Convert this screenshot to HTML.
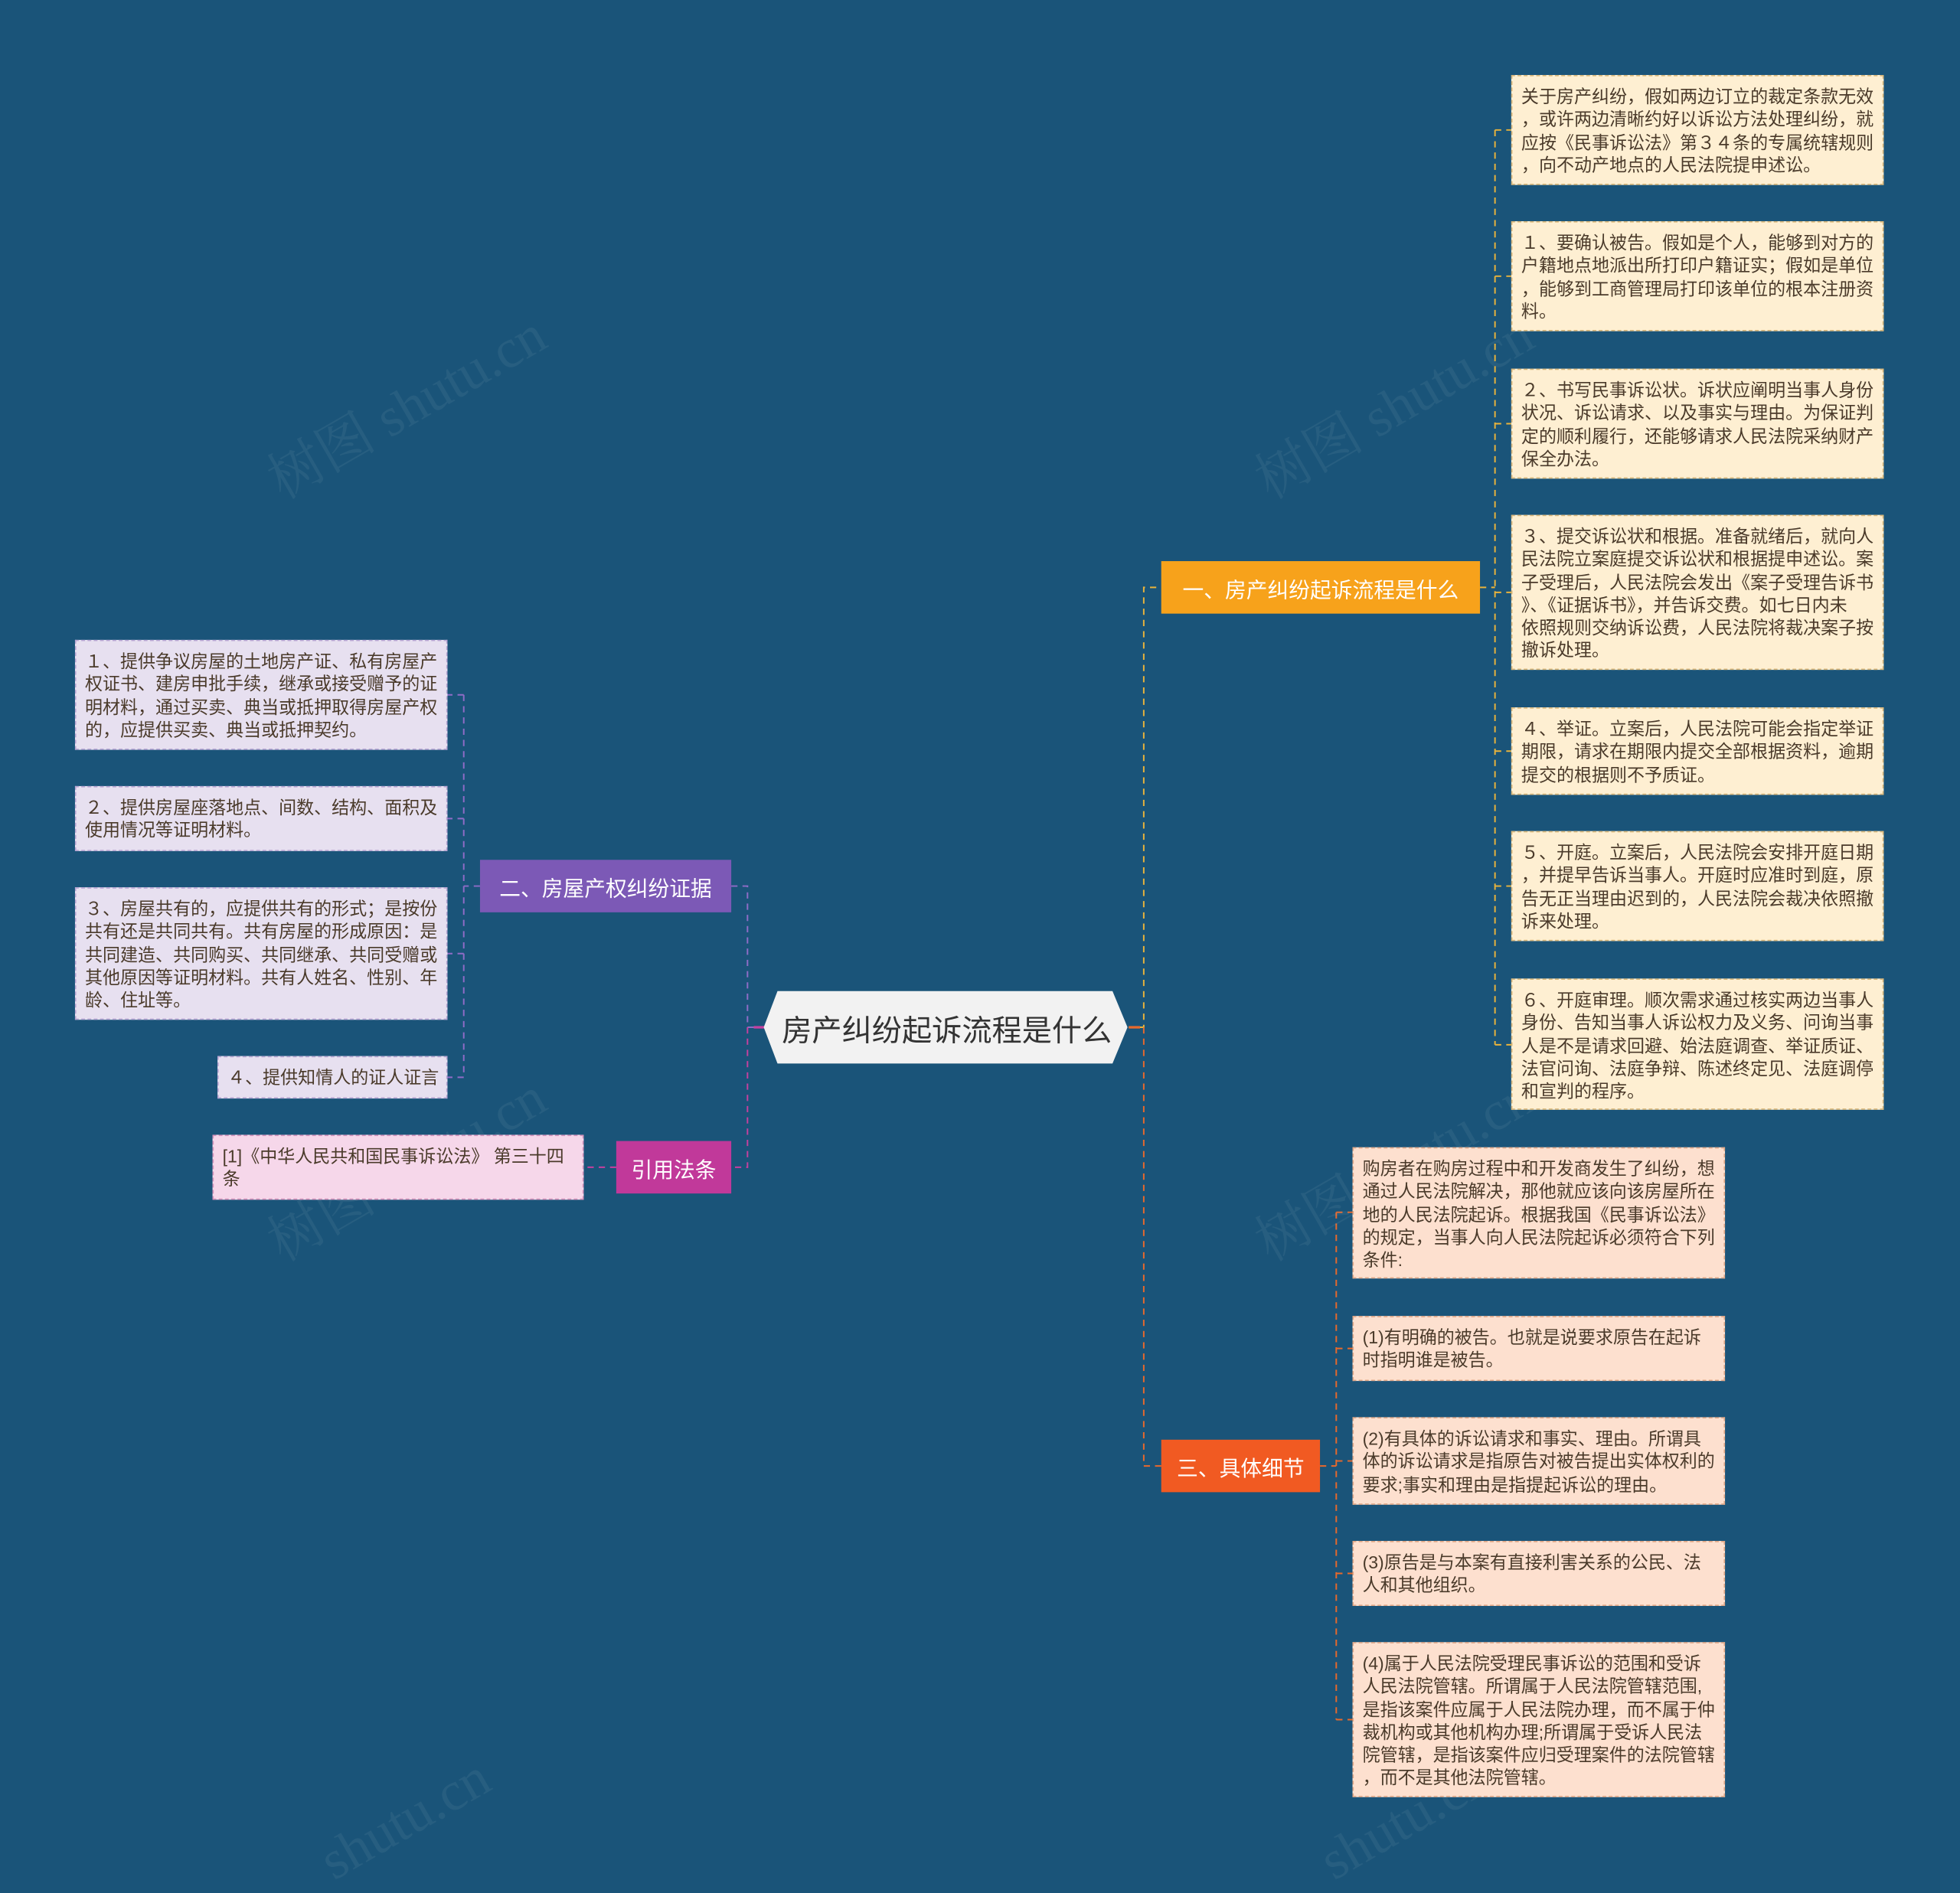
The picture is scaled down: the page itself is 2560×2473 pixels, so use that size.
<!DOCTYPE html>
<html><head><meta charset="utf-8"><style>
html,body{margin:0;padding:0;background:#1a5479;}
body{width:2560px;height:2448px;overflow:hidden;position:relative;}
#c{position:absolute;left:0;top:0;width:1568px;height:1499px;transform:scale(1.63265);transform-origin:0 0;font-family:"Liberation Sans","Noto Sans CJK SC",sans-serif;}
.b{position:absolute;box-sizing:border-box;padding:7px 6px 0 7px;font-size:14.1px;line-height:18.3px;color:#4a3a2a;white-space:nowrap;overflow:hidden;}
.y{background:#feefd2;border:1px dashed #d9b77a;}
.p{background:#fde0cf;border:1px dashed #e0a787;}
.l{background:#e7e0f0;border:1px dashed #b8a6d3;}
.k{background:#f6d7ea;border:1px dashed #d493bb;}
.m{position:absolute;box-sizing:border-box;color:#fff;font-size:17px;display:flex;align-items:center;justify-content:center;white-space:nowrap;}
.w{position:absolute;font-size:44px;color:rgba(255,255,255,0.06);transform:rotate(-30deg);white-space:nowrap;font-family:"Liberation Serif","Noto Serif CJK SC",serif;}
</style></head><body><div id="c">
<svg width="1568" height="1499" style="position:absolute;left:0;top:0" fill="none" stroke-width="1.2" stroke-dasharray="5,4">
<g stroke="#e9b33c">
<path d="M903 822 H915 V470 H929"/>
<path d="M1184 470 H1196 M1196 104 V836 M1196 104 H1209 M1196 221 H1209 M1196 339 H1209 M1196 474 H1209 M1196 601 H1209 M1196 709 H1209 M1196 836 H1209"/>
</g>
<g stroke="#e8692c">
<path d="M915 822 V1173 H929"/>
<path d="M1056 1173 H1069 M1069 970 V1376 M1069 970 H1082 M1069 1079 H1082 M1069 1169 H1082 M1069 1259 H1082 M1069 1376 H1082"/>
</g>
<g stroke="#8f6cc7">
<path d="M612 822 H598 V709 H585"/>
<path d="M384 709 H371 M371 556 V862 M371 556 H358 M371 655 H358 M371 763 H358 M371 862 H358"/>
</g>
<g stroke="#c6409f">
<path d="M598 822 V934 H585"/>
<path d="M493 934 H467"/>
</g>
<path d="M903 822 H912" stroke="#e8692c" stroke-dasharray="none" stroke-width="2"/>
<path d="M603 822 H612" stroke="#c6409f" stroke-dasharray="none" stroke-width="2"/>
</svg>
<div class="w" style="left:200px;top:290px">树图 shutu.cn</div>
<div class="w" style="left:990px;top:290px">树图 shutu.cn</div>
<div class="w" style="left:200px;top:900px">树图 shutu.cn</div>
<div class="w" style="left:990px;top:900px">树图 shutu.cn</div>
<div class="w" style="left:250px;top:1430px">shutu.cn</div>
<div class="w" style="left:1050px;top:1430px">shutu.cn</div>

<svg width="300" height="60" style="position:absolute;left:610px;top:792px"><polygon points="12,1 280,1 292,30 280,59 12,59 1,30" fill="#f2f2f2"/></svg>
<div class="m" style="left:612px;top:793px;width:291px;height:58px;color:#333;font-size:24px">房产纠纷起诉流程是什么</div>

<div class="m" style="left:929px;top:449px;width:255px;height:42px;background:#f7a21b">一、房产纠纷起诉流程是什么</div>
<div class="m" style="left:929px;top:1152px;width:127px;height:42px;background:#f15a22">三、具体细节</div>
<div class="m" style="left:384px;top:688px;width:201px;height:42px;background:#7c59b6">二、房屋产权纠纷证据</div>
<div class="m" style="left:493px;top:913px;width:92px;height:42px;background:#c1399a">引用法条</div>

<div class="b y" style="left:1209px;top:60px;width:298px;height:88px">关于房产纠纷，假如两边订立的裁定条款无效<br>，或许两边清晰约好以诉讼方法处理纠纷，就<br>应按《民事诉讼法》第３４条的专属统辖规则<br>，向不动产地点的人民法院提申述讼。</div>
<div class="b y" style="left:1209px;top:177px;width:298px;height:88px">１、要确认被告。假如是个人，能够到对方的<br>户籍地点地派出所打印户籍证实；假如是单位<br>，能够到工商管理局打印该单位的根本注册资<br>料。</div>
<div class="b y" style="left:1209px;top:295px;width:298px;height:88px">２、书写民事诉讼状。诉状应阐明当事人身份<br>状况、诉讼请求、以及事实与理由。为保证判<br>定的顺利履行，还能够请求人民法院采纳财产<br>保全办法。</div>
<div class="b y" style="left:1209px;top:412px;width:298px;height:124px">３、提交诉讼状和根据。准备就绪后，就向人<br>民法院立案庭提交诉讼状和根据提申述讼。案<br>子受理后，人民法院会发出《案子受理告诉书<br>》、《证据诉书》，并告诉交费。如七日内未<br>依照规则交纳诉讼费，人民法院将裁决案子按<br>撤诉处理。</div>
<div class="b y" style="left:1209px;top:566px;width:298px;height:70px">４、举证。立案后，人民法院可能会指定举证<br>期限，请求在期限内提交全部根据资料，逾期<br>提交的根据则不予质证。</div>
<div class="b y" style="left:1209px;top:665px;width:298px;height:88px">５、开庭。立案后，人民法院会安排开庭日期<br>，并提早告诉当事人。开庭时应准时到庭，原<br>告无正当理由迟到的，人民法院会裁决依照撤<br>诉来处理。</div>
<div class="b y" style="left:1209px;top:783px;width:298px;height:105px">６、开庭审理。顺次需求通过核实两边当事人<br>身份、告知当事人诉讼权力及义务、问询当事<br>人是不是请求回避、始法庭调查、举证质证、<br>法官问询、法庭争辩、陈述终定见、法庭调停<br>和宣判的程序。</div>

<div class="b p" style="left:1082px;top:918px;width:298px;height:105px">购房者在购房过程中和开发商发生了纠纷，想<br>通过人民法院解决，那他就应该向该房屋所在<br>地的人民法院起诉。根据我国《民事诉讼法》<br>的规定，当事人向人民法院起诉必须符合下列<br>条件:</div>
<div class="b p" style="left:1082px;top:1053px;width:298px;height:52px">(1)有明确的被告。也就是说要求原告在起诉<br>时指明谁是被告。</div>
<div class="b p" style="left:1082px;top:1134px;width:298px;height:70px">(2)有具体的诉讼请求和事实、理由。所谓具<br>体的诉讼请求是指原告对被告提出实体权利的<br>要求;事实和理由是指提起诉讼的理由。</div>
<div class="b p" style="left:1082px;top:1233px;width:298px;height:52px">(3)原告是与本案有直接利害关系的公民、法<br>人和其他组织。</div>
<div class="b p" style="left:1082px;top:1314px;width:298px;height:124px">(4)属于人民法院受理民事诉讼的范围和受诉<br>人民法院管辖。所谓属于人民法院管辖范围,<br>是指该案件应属于人民法院办理，而不属于仲<br>裁机构或其他机构办理;所谓属于受诉人民法<br>院管辖，是指该案件应归受理案件的法院管辖<br>，而不是其他法院管辖。</div>

<div class="b l" style="left:60px;top:512px;width:298px;height:88px">１、提供争议房屋的土地房产证、私有房屋产<br>权证书、建房申批手续，继承或接受赠予的证<br>明材料，通过买卖、典当或抵押取得房屋产权<br>的，应提供买卖、典当或抵押契约。</div>
<div class="b l" style="left:60px;top:629px;width:298px;height:52px">２、提供房屋座落地点、间数、结构、面积及<br>使用情况等证明材料。</div>
<div class="b l" style="left:60px;top:710px;width:298px;height:106px">３、房屋共有的，应提供共有的形式；是按份<br>共有还是共同共有。共有房屋的形成原因：是<br>共同建造、共同购买、共同继承、共同受赠或<br>其他原因等证明材料。共有人姓名、性别、年<br>龄、住址等。</div>
<div class="b l" style="left:174px;top:845px;width:184px;height:34px">４、提供知情人的证人证言</div>
<div class="b k" style="left:170px;top:908px;width:297px;height:52px">[1]《中华人民共和国民事诉讼法》 第三十四<br>条</div>
</div></body></html>
